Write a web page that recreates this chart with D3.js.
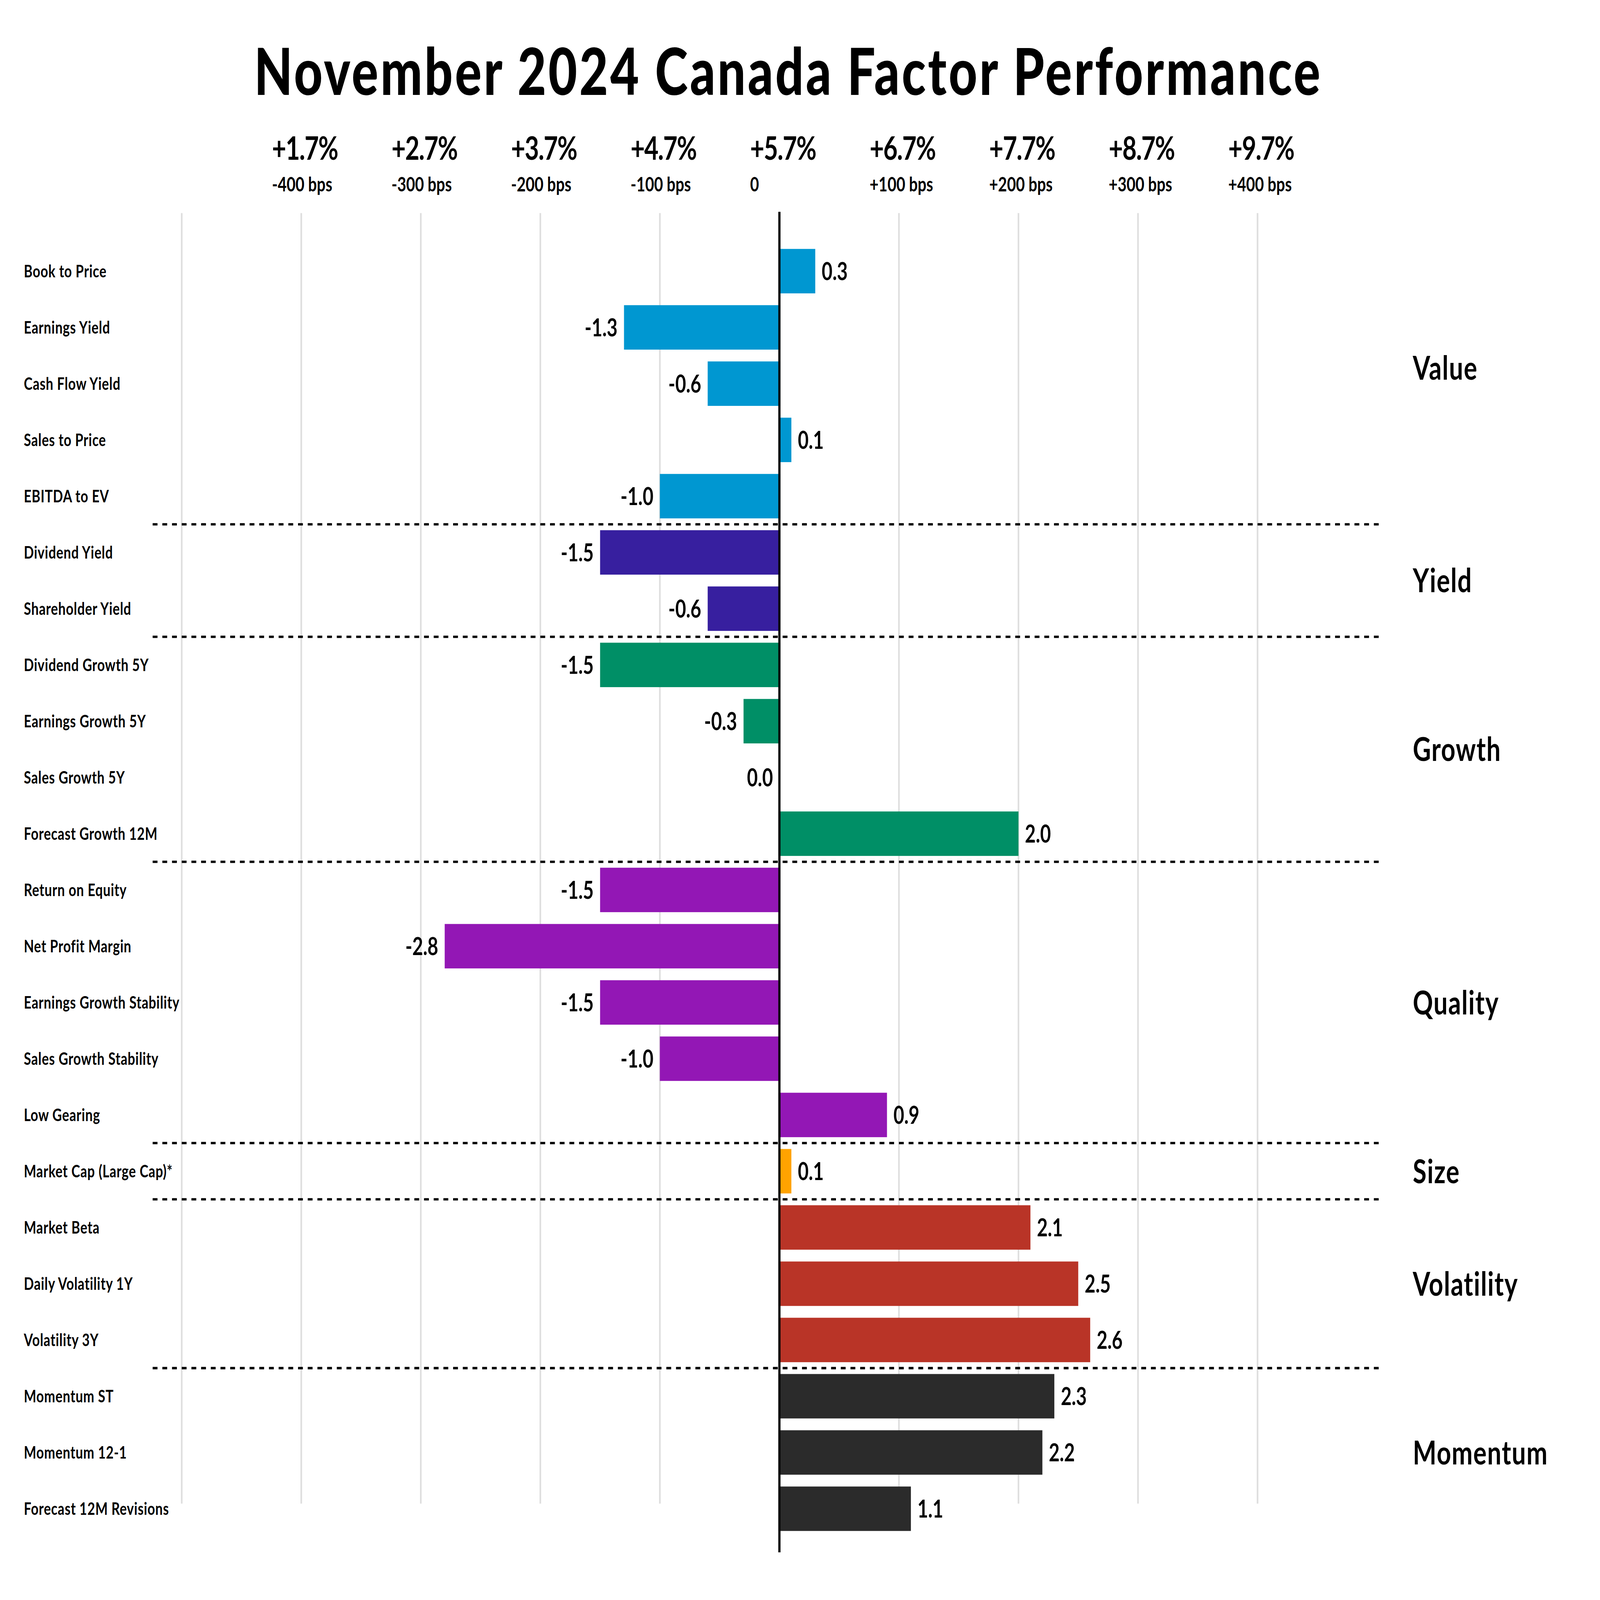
<!DOCTYPE html>
<html>
<head>
<meta charset="utf-8">
<script src="https://cdn.jsdelivr.net/npm/d3@7"></script>
<style>
  html, body { margin: 0; padding: 0; width: 100%; height: 100%; background: #fff; overflow: hidden; }
  #svg { width: 100vw; height: 100vh; }
  text { font-family: "Lato", "DejaVu Sans", sans-serif; fill: #000; }
</style>
</head>
<body>
<div id="svg"></div>
<script>

// data

var factors = ["Book to Price", "Earnings Yield", "Cash Flow Yield", "Sales to Price", "EBITDA to EV",
	       "Dividend Yield", "Shareholder Yield",
	       "Dividend Growth 5Y", "Earnings Growth 5Y", "Sales Growth 5Y", "Forecast Growth 12M",
	       "Return on Equity", "Net Profit Margin", "Earnings Growth Stability", "Sales Growth Stability", "Low Gearing",
	       "Market Cap (Large Cap)*",
	       "Market Beta", "Daily Volatility 1Y", "Volatility 3Y",
	       "Momentum ST", "Momentum 12-1", "Forecast 12M Revisions"];

var values = [0.3, -1.3, -0.6, 0.1, -1.0,
	      -1.5, -0.6,
	      -1.5, -0.3, 0.0, 2.0,
	      -1.5, -2.8, -1.5, -1.0, 0.9,
	      0.1,
	      2.1, 2.5, 2.6,
	      2.3, 2.2, 1.1];

var factorGroup = ["Value", "Value", "Value", "Value", "Value",
		   "Yield", "Yield",
		   "Growth", "Growth", "Growth", "Growth",
		   "Quality", "Quality", "Quality", "Quality", "Quality",
		   "Size",
		   "Volatility", "Volatility", "Volatility",
		   "Momentum", "Momentum", "Momentum"];

var groupNames  = ["Value", "Yield", "Growth", "Quality", "Size", "Volatility", "Momentum"];
var groupColors = ["#0097d1", "#371f9f", "#008f66", "#9317b5", "#ffa300", "#b93427", "#2b2b2b"];

var tickValues = [-4, -3, -2, -1, 0, 1, 2, 3, 4];
var tickPct    = ["+1.7%", "+2.7%", "+3.7%", "+4.7%", "+5.7%", "+6.7%", "+7.7%", "+8.7%", "+9.7%"];
var tickBps    = ["-400 bps", "-300 bps", "-200 bps", "-100 bps", "0", "+100 bps", "+200 bps", "+300 bps", "+400 bps"];
var gridValues = [-5, -4, -3, -2, -1, 1, 2, 3, 4];

var title = "November 2024 Canada Factor Performance";


var svg = {width: 7924, height: 6044};

var x = d3.scaleLinear()
    .domain([0, 1])
    .range([3860, 3860 + 592]);

var y = d3.scaleBand()
    .domain(factors)
    .range([918, 918 + 23 * 212.5])
    .paddingInner(0.21)
    .paddingOuter(0.105);

var color = d3.scaleOrdinal()
    .domain(groupNames)
    .range(groupColors);

var rows = factors.map(function(f, i) {
    return {name: f, val: values[i], group: factorGroup[i]};
});

// the drawing fills the whole window
var svg_cont = d3.select("#svg").append("svg")
    .attr("viewBox", "0 0 " + svg.width + " " + svg.height)
    .attr("preserveAspectRatio", "none")
    .attr("width", "100%")
    .attr("height", "100%")
    .style("display", "block")
    .style("background", "#fff");

create_title();
create_grid();
create_bars();
create_separators();
create_group_labels();


// stretch a text's letter spacing so that it covers w
function fit_width(sel, w) {
    var node = sel.node();
    var len = node.getComputedTextLength();
    var n = sel.text().length;
    if (n > 1) sel.attr("letter-spacing", (w - len) / (n - 1));
}

function create_title() {
    var t = svg_cont.append("text")
	.attr("x", 3904)
	.attr("y", 359)
	.attr("text-anchor", "middle")
	.attr("font-size", 246)
	.attr("font-weight", 900)
	.text(title);
    fit_width(t, 5280);

    var head = svg_cont.append("g").attr("class", "head");
    head.selectAll(".pct")
	.data(tickValues)
	.enter()
	.append("text")
	.attr("class", "pct")
	.attr("x", function(d) { return x(d) - 145; })
	.attr("y", 604)
	.attr("font-size", 122)
	.attr("font-weight", 700)
	.attr("letter-spacing", -3)
	.text(function(d, i) { return tickPct[i]; });
    head.selectAll(".bps")
	.data(tickValues)
	.enter()
	.append("text")
	.attr("class", "bps")
	.attr("x", function(d) { return x(d) - 145; })
	.attr("y", 723)
	.attr("font-size", 76)
	.attr("font-weight", 700)
	.text(function(d, i) { return tickBps[i]; });
}

function create_grid() {
    svg_cont.append("g")
	.attr("class", "grid")
	.selectAll("line")
	.data(gridValues)
	.enter()
	.append("line")
	.attr("x1", function(d) { return x(d); })
	.attr("x2", function(d) { return x(d); })
	.attr("y1", 805)
	.attr("y2", 5680)
	.attr("stroke", "#dedede")
	.attr("stroke-width", 8);
}

function create_bars() {
    var bg = svg_cont.append("g").attr("id", "lay-bars");

    bg.selectAll("rect")
	.data(rows)
	.enter()
	.append("rect")
	.attr("x", function(d) { return x(Math.min(0, d.val)); })
	.attr("width", function(d) { return Math.abs(x(d.val) - x(0)); })
	.attr("y", function(d) { return y(d.name); })
	.attr("height", y.bandwidth())
	.attr("fill", function(d) { return color(d.group); });

    // value labels, outside the bar end
    bg.selectAll(".val")
	.data(rows)
	.enter()
	.append("text")
	.attr("class", "val")
	.attr("x", function(d) { return d.val > 0 ? x(d.val) + 32 : x(d.val) - 32; })
	.attr("y", function(d) { return y(d.name) + y.bandwidth() / 2; })
	.attr("dy", "0.36em")
	.attr("text-anchor", function(d) { return d.val > 0 ? "start" : "end"; })
	.attr("font-size", 92)
	.attr("font-weight", 700)
	.text(function(d) { return d.val.toFixed(1); });

    // factor names on the left
    bg.selectAll(".fac")
	.data(rows)
	.enter()
	.append("text")
	.attr("class", "fac")
	.attr("x", 118)
	.attr("y", function(d) { return y(d.name) + y.bandwidth() / 2; })
	.attr("dy", "0.36em")
	.attr("font-size", 65)
	.attr("font-weight", 700)
	.attr("letter-spacing", 1.5)
	.text(function(d) { return d.name; });

    // zero axis
    svg_cont.append("line")
	.attr("x1", x(0))
	.attr("x2", x(0))
	.attr("y1", 800)
	.attr("y2", 5864)
	.attr("stroke", "#000")
	.attr("stroke-width", 11);
}

function boundaries() {
    var res = [];
    var gap = y.step() - y.bandwidth();
    for (var i = 1; i < rows.length; i++) {
	if (rows[i].group != rows[i - 1].group) {
	    res.push(y(rows[i].name) - gap / 2);
	}
    }
    return res;
}

function create_separators() {
    svg_cont.append("g")
	.attr("class", "sep")
	.selectAll("line")
	.data(boundaries())
	.enter()
	.append("line")
	.attr("x1", 756)
	.attr("x2", 6835)
	.attr("y1", function(d) { return d; })
	.attr("y2", function(d) { return d; })
	.attr("stroke", "#000")
	.attr("stroke-width", 9)
	.attr("stroke-dasharray", "24,24");
}

function create_group_labels() {
    var b = boundaries();
    var gap = y.step() - y.bandwidth();
    var top = 800;
    var bot = y(factors[factors.length - 1]) + y.bandwidth() + gap / 2;
    var edges = [top].concat(b).concat([bot]);

    svg_cont.append("g")
	.attr("class", "glab")
	.selectAll("text")
	.data(groupNames)
	.enter()
	.append("text")
	.attr("x", 6997)
	.attr("y", function(d, i) { return (edges[i] + edges[i + 1]) / 2; })
	.attr("dy", "0.36em")
	.attr("font-size", 124)
	.attr("font-weight", 700)
	.attr("letter-spacing", 3)
	.text(function(d) { return d; });
}

</script>
</body>
</html>
